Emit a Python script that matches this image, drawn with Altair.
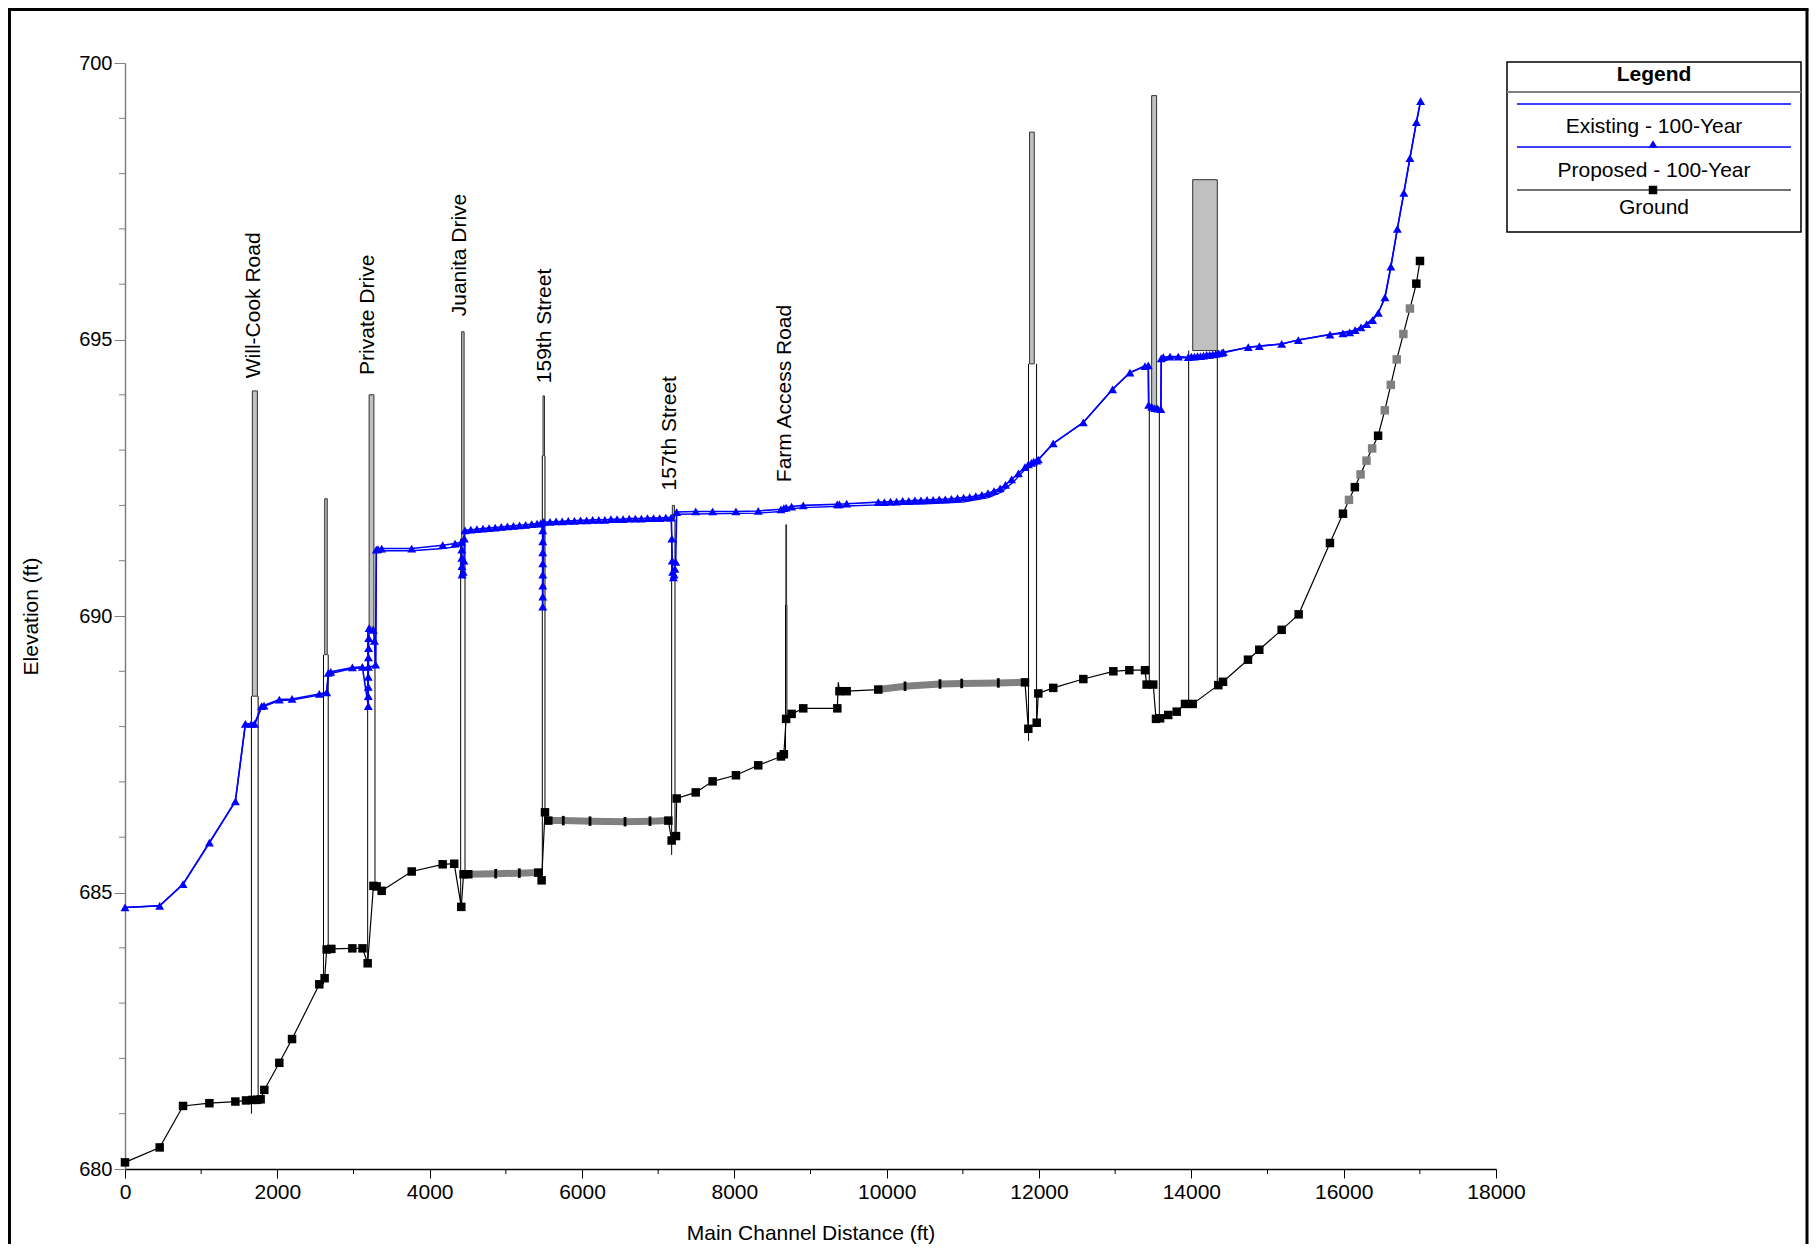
import altair as alt
import pandas as pd

FONT = "Liberation Sans, Arial, Helvetica, sans-serif"
BLUE = "#0000FF"

# ---------------- Ground profile ----------------
ground_x = [0, 455, 762, 1108, 1449, 1589, 1676, 1735, 1781, 1829,
            2026, 2193, 2551, 2621, 2648, 2709, 2985, 3118, 3186, 3262,
            3304, 3370, 3764, 4171, 4322, 4415, 4445, 4507, 4867, 5177,
            5426, 5470, 5514, 5558, 5754, 6105, 6565, 6893, 7134, 7177,
            7234, 7243, 7493, 7715, 8021, 8314, 8612, 8650, 8680, 8752,
            8905, 9352, 9365, 9380, 9475, 9890, 10241, 10700, 10985, 11466,
            11816, 11860, 11970, 11991, 12187, 12582, 12976, 13186, 13392, 13413,
            13500, 13536, 13590, 13697, 13808, 13917, 14018, 14354, 14416, 14744,
            14892, 15186, 15409, 15820, 15991, 16070, 16147, 16222, 16300, 16374,
            16452, 16540, 16619, 16697, 16784, 16870, 16954, 17002]
ground_y = [680.12, 680.39, 681.14, 681.19, 681.22, 681.24, 681.25, 681.25, 681.26, 681.43,
            681.92, 682.35, 683.34, 683.45, 683.97, 683.98, 683.99, 683.99, 683.72, 685.12,
            685.11, 685.03, 685.38, 685.51, 685.52, 684.74, 685.33, 685.33, 685.34, 685.35,
            685.36, 685.22, 686.45, 686.30, 686.30, 686.29, 686.28, 686.29, 686.30, 685.94,
            686.02, 686.70, 686.81, 687.01, 687.12, 687.30, 687.46, 687.50, 688.14, 688.23,
            688.33, 688.33, 688.80, 688.64, 688.64, 688.67, 688.73, 688.77, 688.78, 688.79,
            688.80, 687.96, 688.07, 688.60, 688.70, 688.86, 689.00, 689.02, 689.02, 688.76,
            688.76, 688.14, 688.15, 688.21, 688.27, 688.41, 688.41, 688.75, 688.81, 689.21,
            689.39, 689.75, 690.03, 691.32, 691.85, 692.10, 692.33, 692.56, 692.81, 693.03,
            693.26, 693.72, 694.18, 694.64, 695.10, 695.56, 696.01, 696.42]
# b = black square, g = grey square, t = tick inside grey band, n = no marker
ground_kind = list("bbbbbbbbbb"
                   "bbbbbbbbbb"
                   "bbbbbbbbtt"
                   "bbbbttttbb"
                   "bbbbbbbbbb"
                   "bbnbbbtttt"
                   "bbbbbbbbbb"
                   "bbbbbbbbbb"
                   "bbbbbgbggg"
                   "bgggggbb")
ground_band = [0, 0, 0, 0, 0, 0, 0, 0, 0, 0,
               0, 0, 0, 0, 0, 0, 0, 0, 0, 0,
               0, 0, 0, 0, 0, 0, 1, 1, 1, 1,
               1, 0, 0, 2, 2, 2, 2, 2, 2, 0,
               0, 0, 0, 0, 0, 0, 0, 0, 0, 0,
               0, 0, 0, 0, 0, 3, 3, 3, 3, 3,
               3, 0, 0, 0, 0, 0, 0, 0, 0, 0,
               0, 0, 0, 0, 0, 0, 0, 0, 0, 0,
               0, 0, 0, 0, 0, 0, 0, 0, 0, 0,
               0, 0, 0, 0, 0, 0, 0, 0]

# ---------------- Water surfaces ----------------
prop_x = [0, 455, 762, 1108, 1449, 1580, 1659, 1700, 1794, 1825, 2026, 2193, 2551, 2648, 2669,
          2701, 2985, 3116,
          3194, 3194, 3194, 3194, 3196, 3196, 3198, 3200, 3205,
          3260, 3275, 3290, 3300, 3322, 3370, 3764, 4171, 4333, 4420,
          4422, 4422, 4424, 4426, 4440, 4450, 4455,
          4464, 4540, 4620, 4700, 4780, 4860, 4940, 5020, 5100, 5180, 5260, 5340, 5410, 5460,
          5485, 5485, 5485, 5485, 5485, 5485, 5485, 5485,
          5500, 5580, 5660, 5740, 5820, 5900, 5980, 6060, 6140, 6220, 6300, 6380, 6460, 6540,
          6620, 6700, 6780, 6860, 6940, 7020, 7100, 7170,
          7180, 7185, 7190, 7200, 7210, 7220, 7230,
          7243, 7493, 7715, 8021, 8314, 8612, 8650, 8680, 8752, 8905, 9352, 9380, 9475,
          9890, 9970, 10050, 10130, 10210, 10290, 10370, 10450, 10530, 10610, 10690, 10770,
          10850, 10930, 11010, 11090, 11170, 11250, 11330, 11410, 11490, 11560, 11640, 11730,
          11816, 11860, 11900, 11930, 11970, 11991, 12187, 12582, 12966, 13194, 13392, 13435,
          13440, 13480, 13520, 13560, 13600, 13605, 13632, 13720, 13829, 13960,
          14000, 14040, 14080, 14120, 14160, 14200, 14240, 14280, 14320, 14360, 14400, 14420,
          14748, 14893, 15186, 15405, 15820, 15990, 16078, 16150, 16227, 16302, 16380, 16455,
          16542, 16620, 16705, 16790, 16870, 16955, 17010]
prop_y = [684.73, 684.76, 685.15, 685.90, 686.65, 688.05, 688.05, 688.05, 688.37, 688.38,
          688.49, 688.50, 688.59, 688.62, 688.97, 688.99, 689.07, 689.08,
          688.37, 688.55, 688.72, 688.90, 689.08, 689.25, 689.42, 689.60, 689.78,
          689.75, 689.55, 689.12, 691.20, 691.21, 691.22, 691.22, 691.28, 691.31, 691.34,
          691.20, 691.05, 690.90, 690.75, 690.80, 691.00, 691.40,
          691.55, 691.56, 691.57, 691.58, 691.59, 691.60, 691.61, 691.62, 691.63, 691.64,
          691.65, 691.66, 691.67, 691.68,
          691.55, 691.35, 691.15, 690.95, 690.75, 690.55, 690.35, 690.17,
          691.70, 691.70, 691.71, 691.71, 691.72, 691.72, 691.73, 691.73, 691.74, 691.74,
          691.74, 691.75, 691.75, 691.75, 691.76, 691.76, 691.76, 691.77, 691.77, 691.77,
          691.78, 691.78,
          691.40, 691.00, 690.80, 690.70, 690.75, 690.85, 690.98,
          691.88, 691.89, 691.89, 691.89, 691.90, 691.93, 691.95, 691.96, 691.98, 692.00,
          692.02, 692.02, 692.03,
          692.06, 692.06, 692.07, 692.07, 692.08, 692.08, 692.09, 692.09, 692.10, 692.10,
          692.11, 692.11, 692.12, 692.13, 692.14, 692.15, 692.17, 692.19, 692.22, 692.26,
          692.31, 692.37, 692.47, 692.58,
          692.69, 692.74, 692.77, 692.79, 692.81, 692.83, 693.12, 693.50, 694.10, 694.40,
          694.52, 694.53,
          693.82, 693.78, 693.76, 693.75, 693.74, 694.66, 694.68, 694.69, 694.69, 694.68,
          694.69, 694.69, 694.70, 694.70, 694.71, 694.72, 694.72, 694.73, 694.74, 694.75,
          694.76, 694.77,
          694.86, 694.88, 694.92, 694.99, 695.09, 695.11, 695.13, 695.17, 695.22, 695.28,
          695.35, 695.48, 695.76, 696.32, 697.00, 697.65, 698.28, 698.93, 699.31]

exist_x = [0, 455, 762, 1108, 1449, 1580, 1700, 1794, 2026, 2193, 2551, 2648, 2669, 2985, 3116,
           3290, 3300, 3370, 3764, 4171, 4333, 4420, 4464, 5470, 5500, 7170, 7243, 8314, 8612,
           8752, 8905, 9475, 9890, 10500, 11000, 11335, 11505, 11660, 11816, 11991, 12187,
           12582, 12966, 13194, 13392, 13435, 13440, 13600, 13605, 13960, 14420, 14748, 15186,
           15405, 15820, 16150, 16302, 16455, 16542, 16620, 16705, 16790, 16870, 16955, 17010]
exist_y = [684.73, 684.76, 685.15, 685.90, 686.65, 688.03, 688.03, 688.35, 688.47, 688.48,
           688.57, 688.60, 688.95, 689.05, 689.06, 689.10, 691.17, 691.18, 691.18, 691.22,
           691.25, 691.28, 691.50, 691.62, 691.66, 691.74, 691.84, 691.86, 691.89, 691.94,
           691.96, 691.99, 692.01, 692.03, 692.06, 692.14, 692.24, 692.42, 692.65, 692.82,
           693.12, 693.50, 694.10, 694.40, 694.52, 694.53, 693.82, 693.74, 694.66, 694.67,
           694.76, 694.86, 694.92, 694.99, 695.09, 695.17, 695.28, 695.48, 695.76, 696.32,
           697.00, 697.65, 698.28, 698.93, 699.31]

# ---------------- Structures (bridges / culverts) ----------------
st_xl = [1660, 2606, 3186, 4407, 5479, 7177, 8672, 11862, 13448, 13965]
st_xr = [1748, 2668, 3282, 4464, 5514, 7221, 8690, 11968, 13580, 14341]
st_botl = [681.00, 683.34, 683.72, 684.74, 685.22, 685.68, 687.50, 687.74, 688.76, 688.38]
st_botr = [681.26, 683.97, 685.12, 685.33, 686.45, 686.02, 688.14, 688.07, 688.14, 688.77]
st_top = [694.07, 692.12, 694.00, 695.14, 693.98, 692.00, 691.65, 698.75, 699.41, 697.89]
st_gxl = [1672, 2622, 3205, 4420, 5488, 7186, 8676, 11876, 13479, 14018]
st_gxr = [1738, 2655, 3268, 4452, 5508, 7214, 8686, 11938, 13544, 14341]
st_gbot = [688.55, 689.30, 689.80, 691.40, 692.90, 691.75, 690.20, 694.56, 693.72, 694.80]

labels = ["Will-Cook Road", "Private Drive", "Juanita Drive", "159th Street",
          "157th Street", "Farm Access Road"]
label_x = [1698, 3186, 4403, 5519, 7156, 8665]
label_y = [694.30, 694.36, 695.42, 694.21, 692.27, 692.42]

# axis ticks
x_major = [0, 2000, 4000, 6000, 8000, 10000, 12000, 14000, 16000, 18000]
x_minor = [1000, 3000, 5000, 7000, 9000, 11000, 13000, 15000, 17000]
y_major = [680, 685, 690, 695, 700]
y_minor = [681, 682, 683, 684, 686, 687, 688, 689, 691, 692, 693, 694, 696, 697, 698, 699]

# ---------------- Build tables ----------------
ground = pd.DataFrame({"x": ground_x, "y": ground_y, "kind": ground_kind,
                       "band": ground_band, "i": range(len(ground_x))})
prop = pd.DataFrame({"x": prop_x, "y": prop_y, "i": range(len(prop_x))})
exist = pd.DataFrame({"x": exist_x, "y": exist_y, "i": range(len(exist_x))})
struct = pd.DataFrame({"xl": st_xl, "xr": st_xr, "botl": st_botl, "botr": st_botr,
                       "top": st_top, "gxl": st_gxl, "gxr": st_gxr, "gbot": st_gbot})
labs = pd.DataFrame({"label": labels, "x": label_x, "y": label_y})
xmin_df = pd.DataFrame({"x": x_minor})
ymin_df = pd.DataFrame({"y": y_minor})
one = pd.DataFrame({"a": [0]})

W, H = 1371, 1106
PAD = {"left": 117, "top": 55, "right": 313, "bottom": 75}
xs = alt.Scale(domain=[0, 18000], nice=False, zero=False)
ys = alt.Scale(domain=[680, 700], nice=False, zero=False)

x_axis = alt.Axis(
    title="Main Channel Distance (ft)", values=x_major, format="d", tickSize=9,
    labelFontSize=21, labelFont=FONT, labelColor="black", labelPadding=3,
    labelOverlap=False, labelFlush=False, domainColor="black", domainWidth=1.5,
    tickColor="black", tickWidth=1, grid=False,
    titleFontSize=21, titleFont=FONT, titleFontWeight="normal", titleColor="black",
    titleX=685.5, titleY=64, titleAlign="center", titleBaseline="middle")
y_axis = alt.Axis(
    title="Elevation (ft)", values=y_major, format="d", tickSize=11,
    labelFontSize=20, labelFont=FONT, labelColor="black", labelPadding=2,
    labelOverlap=False, labelFlush=False, domainColor="#808080", domainWidth=1.5,
    tickColor="#808080", tickWidth=1, grid=False,
    titleFontSize=21, titleFont=FONT, titleFontWeight="normal", titleColor="black",
    titleX=-94, titleY=553, titleAngle=270, titleAlign="center", titleBaseline="middle")


def X(f="x"):
    return alt.X(f"{f}:Q", scale=xs, axis=x_axis)


def Y(f="y"):
    return alt.Y(f"{f}:Q", scale=ys, axis=y_axis)


ground_line = alt.Chart(ground).mark_line(color="black", strokeWidth=1.2).encode(
    x=X(), y=Y(), order="i:Q")

# minor ticks
x_minor_ticks = alt.Chart(xmin_df).mark_rule(color="black", strokeWidth=1).encode(
    x=X(), y=alt.value(H), y2=alt.value(H + 5))
y_minor_ticks = alt.Chart(ymin_df).mark_rule(color="#808080", strokeWidth=1).encode(
    y=Y(), x=alt.value(-6), x2=alt.value(0))

# structures
st_fill = alt.Chart(struct).mark_rect(color="#C0C0C0", stroke="#303030", strokeWidth=1).encode(
    x=X("gxl"), x2="gxr", y=Y("gbot"), y2="top")
st_left = alt.Chart(struct).mark_rule(color="black", strokeWidth=1).encode(
    x=X("xl"), y=Y("botl"), y2="gbot")
st_right = alt.Chart(struct).mark_rule(color="black", strokeWidth=1).encode(
    x=X("xr"), y=Y("botr"), y2="gbot")

band = alt.Chart(ground).transform_filter("datum.band > 0").mark_line(
    color="#808080", strokeWidth=7, strokeCap="butt").encode(
    x=X(), y=Y(), detail="band:N", order="i:Q")
ticks = alt.Chart(ground).transform_filter("datum.kind === 't'").mark_point(
    shape="M-0.3,-1L0.3,-1L0.3,1L-0.3,1Z", filled=True, size=90, color="black",
    opacity=1).encode(x=X(), y=Y())
squares = alt.Chart(ground).transform_filter(
    "datum.kind === 'b' || datum.kind === 'g'").mark_point(
    shape="square", filled=True, size=72, opacity=1).encode(
    x=X(), y=Y(),
    color=alt.Color("kind:N", scale=alt.Scale(domain=["b", "g"], range=["black", "#808080"]),
                    legend=None))

exist_line = alt.Chart(exist).mark_line(color=BLUE, strokeWidth=1.4).encode(
    x=X(), y=Y(), order="i:Q")
prop_line = alt.Chart(prop).mark_line(color=BLUE, strokeWidth=1.6).encode(
    x=X(), y=Y(), order="i:Q")
prop_pts = alt.Chart(prop).mark_point(shape="triangle-up", filled=True, size=80, color=BLUE,
                                      opacity=1).encode(x=X(), y=Y())

label_layer = alt.Chart(labs).mark_text(angle=270, align="left", baseline="middle",
                                        fontSize=21, font=FONT, color="black").encode(
    x=X(), y=Y(), text="label:N")

# ---------------- Legend (drawn box) ----------------
LX0, LX1, LC = 1382, 1676, 1529
leg = [
    alt.Chart(one).mark_rect(fill="white", stroke="black", strokeWidth=1.5).encode(
        x=alt.value(LX0), x2=alt.value(LX1), y=alt.value(-1), y2=alt.value(169)),
    alt.Chart(one).mark_rule(color="#808080", strokeWidth=2).encode(
        x=alt.value(LX0), x2=alt.value(LX1), y=alt.value(29)),
    alt.Chart(one).mark_text(text="Legend", fontSize=21, fontWeight="bold", font=FONT,
                             align="center", baseline="middle", color="black").encode(
        x=alt.value(LC), y=alt.value(12)),
    alt.Chart(one).mark_rule(color=BLUE, strokeWidth=1.3).encode(
        x=alt.value(1392), x2=alt.value(1666), y=alt.value(41)),
    alt.Chart(one).mark_text(text="Existing - 100-Year", fontSize=21, font=FONT,
                             align="center", baseline="middle", color="black").encode(
        x=alt.value(LC), y=alt.value(64)),
    alt.Chart(one).mark_rule(color=BLUE, strokeWidth=1.3).encode(
        x=alt.value(1392), x2=alt.value(1666), y=alt.value(84)),
    alt.Chart(one).mark_point(shape="triangle-up", filled=True, size=80, color=BLUE,
                              opacity=1).encode(x=alt.value(1528), y=alt.value(81)),
    alt.Chart(one).mark_text(text="Proposed - 100-Year", fontSize=21, font=FONT,
                             align="center", baseline="middle", color="black").encode(
        x=alt.value(LC), y=alt.value(108)),
    alt.Chart(one).mark_rule(color="#404040", strokeWidth=1.5).encode(
        x=alt.value(1392), x2=alt.value(1666), y=alt.value(127)),
    alt.Chart(one).mark_point(shape="square", filled=True, size=72, color="black",
                              opacity=1).encode(x=alt.value(1528), y=alt.value(127)),
    alt.Chart(one).mark_text(text="Ground", fontSize=21, font=FONT,
                             align="center", baseline="middle", color="black").encode(
        x=alt.value(LC), y=alt.value(145)),
]

# outer frame (left, top, right edges; bottom lies beyond the page)
FL, FR, FT, FB = -115.5, 1682, -53.5, 1181
frame = [
    alt.Chart(one).mark_rule(color="black", strokeWidth=3).encode(
        x=alt.value(FL), y=alt.value(FT), y2=alt.value(FB)),
    alt.Chart(one).mark_rule(color="black", strokeWidth=3).encode(
        x=alt.value(FR), y=alt.value(FT), y2=alt.value(FB)),
    alt.Chart(one).mark_rule(color="black", strokeWidth=3, strokeCap="square").encode(
        x=alt.value(FL), x2=alt.value(FR), y=alt.value(FT)),
]

chart = alt.layer(
    ground_line, x_minor_ticks, y_minor_ticks, st_fill, st_left, st_right, band, ticks,
    squares, exist_line, prop_line, prop_pts, label_layer, *leg, *frame
).properties(
    width=W, height=H,
    padding=PAD,
    autosize=alt.AutoSizeParams(type="none"),
    background="white",
).configure_view(strokeWidth=0)

chart.save("out.html", embed_options={"renderer": "svg", "actions": False})
